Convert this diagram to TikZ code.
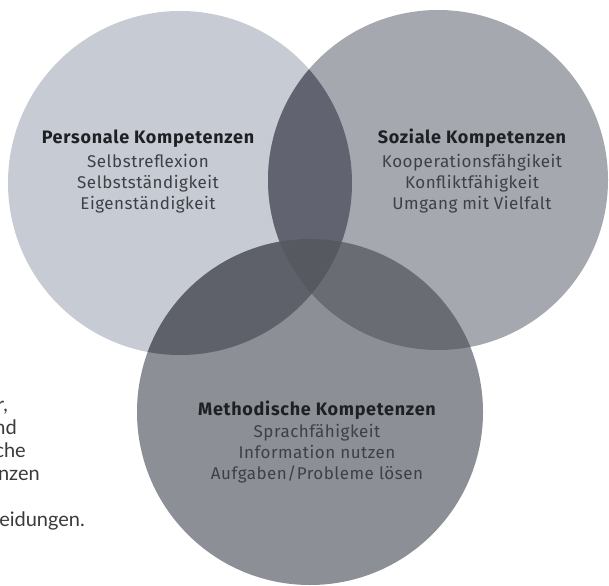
\documentclass[tikz,border=0pt]{standalone}
\usepackage{fontspec}
\setmainfont{Fira Sans}
\newfontfamily\pagefont{Lato}
\usetikzlibrary{positioning}

\definecolor{persfill}{HTML}{C7CBD3}
\definecolor{sozfill}{HTML}{A5A8AF}
\definecolor{methfill}{HTML}{8C8F96}
\definecolor{psfill}{HTML}{616470}
\definecolor{pmfill}{HTML}{5E6169}
\definecolor{smfill}{HTML}{696C73}
\definecolor{allfill}{HTML}{56595F}
\definecolor{headgray}{HTML}{1F2024}
\definecolor{itemgray}{HTML}{3E4045}
\definecolor{pagegray}{HTML}{3A3A3A}

\begin{document}
\begin{tikzpicture}[
  x=1pt, y=-1pt,
  ring/.style={circle, inner sep=0pt, draw=none},
  head/.style={font=\fontsize{18}{21}\selectfont\bfseries\addfontfeatures{LetterSpace=4}, text=headgray, inner sep=0pt},
  item/.style={font=\fontsize{17}{21}\selectfont\addfontfeatures{LetterSpace=3}, text=itemgray, align=center, inner sep=0pt},
  pagetext/.style={font=\pagefont\fontsize{20}{23}\selectfont, text=pagegray, anchor=base east, inner sep=0pt},
]
\useasboundingbox (0,0) rectangle (609,585);

\node[ring, fill=persfill, minimum size=344pt] (pers) at (180,183) {};
\node[ring, fill=sozfill, minimum size=340pt] (soz) at (438,180) {};
\node[ring, fill=methfill, minimum size=346pt] (meth) at (310,412) {};

\begin{scope}
  \clip (pers.center) circle[radius=172pt];
  \fill[psfill] (soz.center) circle[radius=170pt];
  \fill[pmfill] (meth.center) circle[radius=173pt];
\end{scope}
\begin{scope}
  \clip (soz.center) circle[radius=170pt];
  \fill[smfill] (meth.center) circle[radius=173pt];
  \clip (pers.center) circle[radius=172pt];
  \fill[allfill] (meth.center) circle[radius=173pt];
\end{scope}

\node[head, anchor=base] (perstitle) at (148,144) {Personale Kompetenzen};
\node[item, below=6pt of perstitle] (persitems)
  {Selbstreflexion\\Selbstständigkeit\\Eigenständigkeit};

\node[head, anchor=base] (soztitle) at (472,144) {Soziale Kompetenzen};
\node[item, below=6pt of soztitle] (sozitems)
  {Kooperationsfähgikeit\\Konfliktfähigkeit\\Umgang mit Vielfalt};

\node[head, anchor=base] (methtitle) at (317,415) {Methodische Kompetenzen};
\node[item, below=5pt of methtitle] (methitems)
  {Sprachfähigkeit\\Information nutzen\\Aufgaben/Probleme lösen};

\node[pagetext] (frag1) at (8,411) {r,};
\node[pagetext] (frag2) at (17,434) {nd};
\node[pagetext] (frag3) at (26,457) {che};
\node[pagetext] (frag4) at (40,480) {nzen};
\node[pagetext] (frag5) at (85,526) {eidungen.};
\end{tikzpicture}
\end{document}
